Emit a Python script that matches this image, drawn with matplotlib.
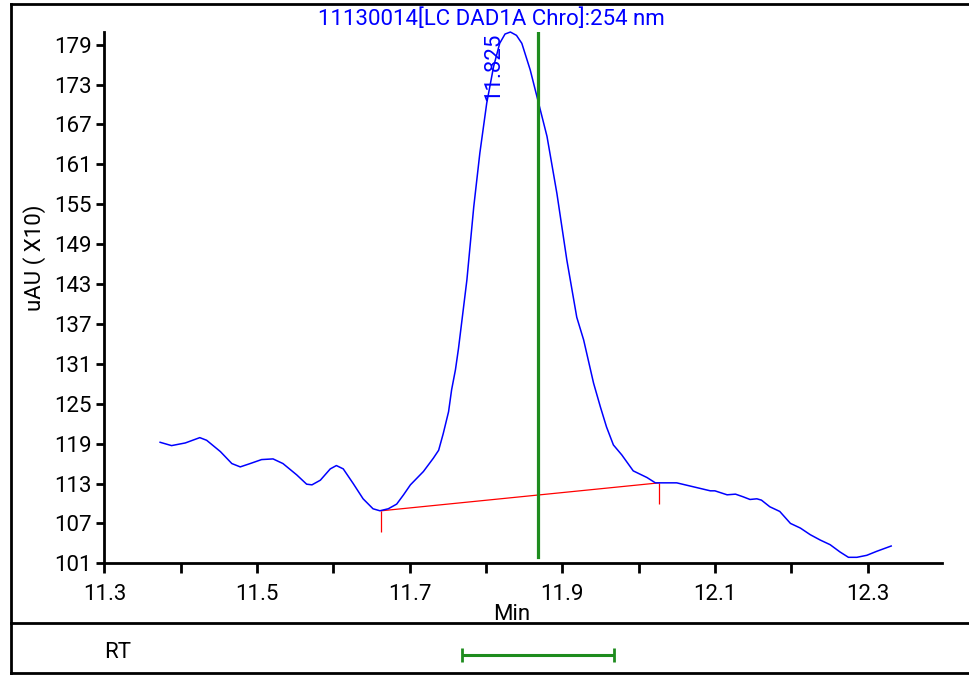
import matplotlib
matplotlib.use("Agg")
import matplotlib.pyplot as plt
from matplotlib.lines import Line2D

plt.rcParams['font.family'] = ['Roboto', 'DejaVu Sans']

# Chromatogram trace: retention time (min) vs detector signal (uAU x10)
time_min = [11.373, 11.388, 11.406, 11.425, 11.434, 11.452, 11.467, 11.478, 11.491, 11.506,
            11.521, 11.534, 11.552, 11.565, 11.572, 11.583, 11.596, 11.604, 11.613, 11.626,
            11.639, 11.652, 11.661, 11.672, 11.683, 11.692, 11.701, 11.718, 11.731, 11.738,
            11.744, 11.751, 11.755, 11.760, 11.764, 11.775, 11.784, 11.792, 11.801, 11.810,
            11.818, 11.825, 11.832, 11.840, 11.847, 11.858, 11.869, 11.880, 11.893, 11.906,
            11.919, 11.928, 11.934, 11.941, 11.950, 11.958, 11.967, 11.978, 11.993, 12.011,
            12.022, 12.050, 12.072, 12.094, 12.100, 12.116, 12.127, 12.137, 12.146, 12.155,
            12.161, 12.172, 12.185, 12.199, 12.212, 12.225, 12.238, 12.251, 12.264, 12.275,
            12.286, 12.299, 12.312, 12.331]
signal = [119.2, 118.7, 119.1, 119.9, 119.5, 117.8, 116.0, 115.5, 116.0, 116.6,
          116.7, 116.0, 114.3, 112.9, 112.8, 113.5, 115.2, 115.7, 115.2, 113.0,
          110.7, 109.2, 108.9, 109.2, 109.9, 111.3, 112.8, 114.8, 116.8, 118.0,
          120.5, 123.8, 127.1, 130.1, 133.3, 143.6, 154.6, 162.7, 170.2, 175.7,
          179.2, 180.6, 180.9, 180.4, 179.2, 175.2, 170.2, 165.2, 156.6, 146.6,
          138.0, 134.6, 131.6, 128.1, 124.5, 121.5, 118.8, 117.3, 114.9, 113.9,
          113.1, 113.1, 112.5, 111.9, 111.9, 111.3, 111.4, 111.0, 110.6, 110.7,
          110.5, 109.5, 108.8, 107.0, 106.3, 105.3, 104.5, 103.8, 102.7, 101.9,
          101.9, 102.2, 102.8, 103.6]

# Integration baseline (start / end of the peak)
baseline_t = [11.663, 12.027]
baseline_y = [108.9, 113.1]

# Detected peak and expected retention window
peak_rt = 11.825
peak_label = "11.825"
expected_rt = 11.868
rt_window = 0.1

trace_title = "11130014[LC DAD1A Chro]:254 nm"
x_label = "Min"
y_label = "uAU ( X10)"
rt_label = "RT"

x_ticks = [11.3, 11.4, 11.5, 11.6, 11.7, 11.8, 11.9, 12.0, 12.1, 12.2, 12.3]
x_tick_labels = ["11.3", "", "11.5", "", "11.7", "", "11.9", "", "12.1", "", "12.3"]
y_ticks = [101, 107, 113, 119, 125, 131, 137, 143, 149, 155, 161, 167, 173, 179]
x_range = (11.3, 12.398)
y_range = (101, 180.95)

BLUE = "#0000ff"
GREEN = "#1e8c1e"
RED = "#ff0000"
FS = 16
W, H = 969, 675

fig = plt.figure(figsize=(W / 100, H / 100), dpi=100)


def fx(px):
    return px / W


def fy(py):
    return 1 - py / H


left, right, top, bottom = 104.4, 942.3, 31.7, 563.3
ax = fig.add_axes([fx(left), fy(bottom), (right - left) / W, (bottom - top) / H])
ax.set_xlim(*x_range)
ax.set_ylim(*y_range)

ax.plot(time_min, signal, color=BLUE, lw=1.1, clip_on=False, zorder=3)
ax.plot(baseline_t, baseline_y, color=RED, lw=0.9, zorder=2)
ax.plot(baseline_t, baseline_y, linestyle="none", marker=3, markersize=15,
        markeredgewidth=0.9, color=RED, zorder=2)
ax.axvline(expected_rt, ymin=0.012, ymax=1.0, color=GREEN, lw=2.3, zorder=4)

ax.annotate(peak_label, xy=(peak_rt, 1.0), xycoords=("data", "axes fraction"),
            xytext=(-11, -1), textcoords="offset pixels", rotation=90,
            ha="center", va="top", color=BLUE, fontsize=FS)

for s in ("top", "right"):
    ax.spines[s].set_visible(False)
for s in ("left", "bottom"):
    ax.spines[s].set_linewidth(2.0)

ax.set_xticks(x_ticks)
ax.set_xticklabels(x_tick_labels)
ax.set_yticks(y_ticks)
ax.set_yticklabels([str(v) for v in y_ticks])
ax.tick_params(axis="x", length=7.2, width=2, pad=7.5, labelsize=FS)
ax.tick_params(axis="y", length=5.8, width=2, pad=3.5, labelsize=FS)

fig.text(fx(491), fy(19), trace_title, ha="center", va="center", color=BLUE, fontsize=FS)
fig.text(fx(512), fy(614), x_label, ha="center", va="center", fontsize=FS)
fig.text(fx(35), fy(258), y_label, ha="center", va="center", rotation=90, fontsize=FS)

# Retention-time window panel below the chromatogram
ax2 = fig.add_axes([fx(left), fy(672), (right - left) / W, (672 - 623.3) / H])
ax2.set_xlim(*x_range)
ax2.set_ylim(-0.7, 1.3)
ax2.axis("off")
ax2.errorbar(expected_rt, 0, xerr=rt_window, fmt="none", ecolor=GREEN,
             elinewidth=2.2, capsize=5, capthick=2.0)
fig.text(fx(118), fy(652), rt_label, ha="center", va="center", fontsize=FS)

# Outer frame and panel separator
frame = dict(color="black", lw=2.0, transform=fig.transFigure)
fig.add_artist(Line2D([fx(10.7), 1.01], [fy(4), fy(4)], **frame))
fig.add_artist(Line2D([fx(10.7), fx(10.7)], [fy(4), fy(672.5)], **frame))
fig.add_artist(Line2D([fx(10.7), 1.01], [fy(672.5), fy(672.5)], **frame))
fig.add_artist(Line2D([fx(10.7), 1.01], [fy(623.3), fy(623.3)], **frame))

fig.savefig("out.png", dpi=100)
